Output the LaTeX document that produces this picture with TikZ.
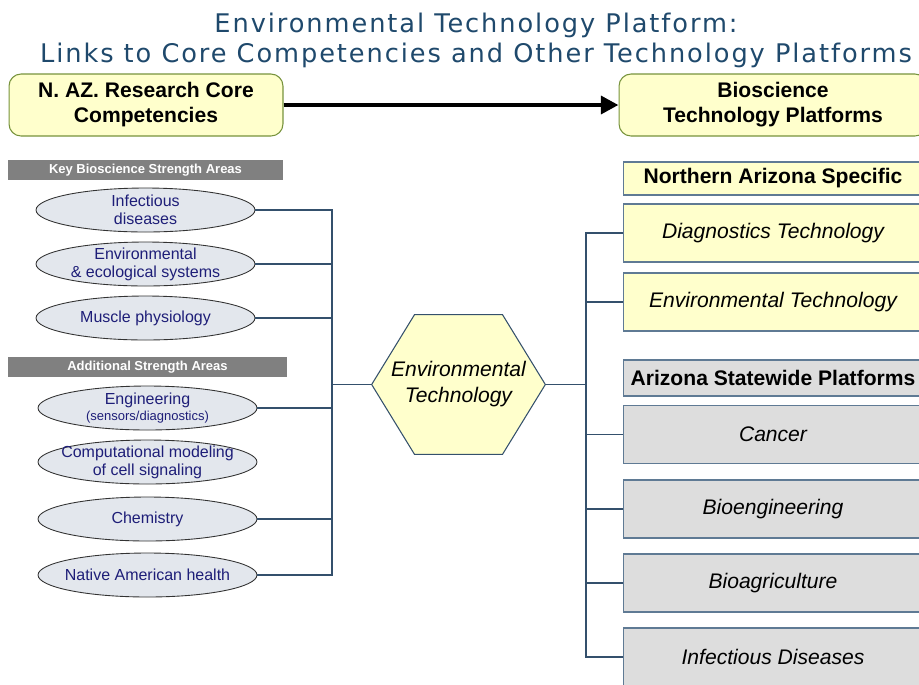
\documentclass[tikz,border=0pt]{standalone}
\usepackage{fontspec}
\setmainfont{Liberation Sans}
\newfontfamily\titlefont[LetterSpace=7.5]{DejaVu Sans}
\usepackage{tikz}
\usetikzlibrary{arrows.meta,positioning,backgrounds,calc,shapes.geometric}
\definecolor{titleblue}{HTML}{1F496C}
\definecolor{paleyellow}{HTML}{FFFFCC}
\definecolor{coregreen}{HTML}{77933C}
\definecolor{boxedge}{HTML}{5F7A94}
\definecolor{ovalfill}{HTML}{E3E7ED}
\definecolor{ovalnavy}{HTML}{1E1E78}
\definecolor{bargray}{HTML}{808080}
\definecolor{stategray}{HTML}{DDDDDD}
\definecolor{linkblue}{HTML}{34506C}

\begin{document}
\begin{tikzpicture}[x=0.02cm, y=-0.02cm, >={Triangle[length=10pt,width=10pt]},
 titletxt/.style={text=titleblue, font=\titlefont\fontsize{14.6}{17}\selectfont, inner sep=0pt},
 corebox/.style={draw=coregreen, fill=paleyellow, rounded corners=2.4mm, line width=0.6pt,
   minimum height=1.24cm, align=center, font=\fontsize{12}{14.2}\selectfont\bfseries},
 barhead/.style={fill=bargray, text=white, minimum height=0.4cm, inner sep=0pt,
   font=\fontsize{7.4}{8}\selectfont\bfseries},
 oval/.style={ellipse, draw=black!80, fill=ovalfill, line width=0.5pt, inner sep=0pt,
   minimum width=4.38cm, minimum height=0.88cm},
 ovaltext/.style={align=center, text=ovalnavy, inner sep=0pt, font=\fontsize{9.1}{10.3}\selectfont},
 natbox/.style={draw=boxedge, fill=paleyellow, line width=0.6pt, minimum width=6cm,
   minimum height=1.16cm, font=\fontsize{12}{14}\selectfont\itshape},
 statebox/.style={natbox, fill=stategray},
 headbox/.style={draw=boxedge, line width=0.6pt, minimum width=6cm,
   font=\fontsize{12}{14}\selectfont\bfseries},
 link/.style={draw=linkblue, line width=0.6pt}]
 \useasboundingbox (0,0) rectangle (919,684);
 \clip (0,0) rectangle (919,684);
 \node[titletxt, anchor=base] (title1) at (476,32) {Environmental Technology Platform:};
 \node[titletxt, anchor=base] (title2) at (476,62) {Links to Core Competencies and Other Technology Platforms};
 \node[corebox, minimum width=5.48cm] (azcore) at (146,105) {N. AZ. Research Core\\Competencies};
 \node[corebox, minimum width=6.16cm] (biotech) at (773,105) {Bioscience\\Technology Platforms};
 \draw[->, line width=2.8pt] (azcore) -- (biotech);
 \node[barhead, minimum width=5.5cm] (keyareas) at (145.5,170) {Key Bioscience Strength Areas};
 \node[oval] (infect) at (145.5,210) {};
 \node[ovaltext] at (infect) {Infectious\\diseases};
 \node[oval] (envsys) at (145.5,264) {};
 \node[ovaltext] at (envsys) {Environmental\\\& ecological systems};
 \node[oval] (muscle) at (145.5,318) {};
 \node[ovaltext] at (muscle) {Muscle physiology};
 \node[barhead, minimum width=5.58cm] (addareas) at (147.5,367) {Additional Strength Areas};
 \node[oval] (engin) at (147.5,408) {};
 \node[ovaltext] at (engin) {Engineering\\[-1.5pt]{\fontsize{7.4}{8.5}\selectfont(sensors/diagnostics)}};
 \node[oval] (compmod) at (147.5,462) {};
 \node[ovaltext] at (compmod) {Computational modeling\\of cell signaling};
 \node[oval] (chem) at (147.5,519) {};
 \node[ovaltext] at (chem) {Chemistry};
 \node[oval] (native) at (147.5,575) {};
 \node[ovaltext] at (native) {Native American health};
 \node[minimum width=3.46cm, minimum height=2.78cm, inner sep=0pt, align=center,
   font=\fontsize{12}{14.8}\selectfont\itshape] (envhex) at (458.5,384.5) {Environmental\\Technology};
 \begin{scope}[on background layer]
 \draw[draw=linkblue, fill=paleyellow, line width=0.6pt] (envhex.west) -- ($(envhex.north)+(-44,0)$)
   -- ($(envhex.north)+(44,0)$) -- (envhex.east) -- ($(envhex.south)+(44,0)$)
   -- ($(envhex.south)+(-44,0)$) -- cycle;
 \end{scope}
 \node[headbox, fill=paleyellow, minimum height=0.66cm] (nazspec) at (773,178.5) {Northern Arizona Specific};
 \node[natbox] (diagtech) at (773,233) {Diagnostics Technology};
 \node[natbox] (envplat) at (773,302) {Environmental Technology};
 \node[headbox, fill=stategray, minimum height=0.72cm] (azstate) at (773,378) {Arizona Statewide Platforms};
 \node[statebox] (cancer) at (773,434.5) {Cancer};
 \node[statebox] (bioeng) at (773,509) {Bioengineering};
 \node[statebox] (bioagri) at (773,583) {Bioagriculture};
 \node[statebox] (infdis) at (773,657) {Infectious Diseases};
 \coordinate (lbus) at (332,0);
 \coordinate (rbus) at (586,0);
 \draw[link] (infect.east) -- (infect.east -| lbus) -- (native.east -| lbus) -- (native.east);
 \draw[link] (envsys.east) -- (envsys.east -| lbus);
 \draw[link] (muscle.east) -- (muscle.east -| lbus);
 \draw[link] (engin.east) -- (engin.east -| lbus);
 \draw[link] (chem.east) -- (chem.east -| lbus);
 \draw[link] (envhex.west) -- (envhex.west -| lbus);
 \draw[link] (diagtech.west) -- (diagtech.west -| rbus) -- (infdis.west -| rbus) -- (infdis.west);
 \draw[link] (envplat.west) -- (envplat.west -| rbus);
 \draw[link] (cancer.west) -- (cancer.west -| rbus);
 \draw[link] (bioeng.west) -- (bioeng.west -| rbus);
 \draw[link] (bioagri.west) -- (bioagri.west -| rbus);
 \draw[link] (envhex.east) -- (envhex.east -| rbus);
\end{tikzpicture}
\end{document}
